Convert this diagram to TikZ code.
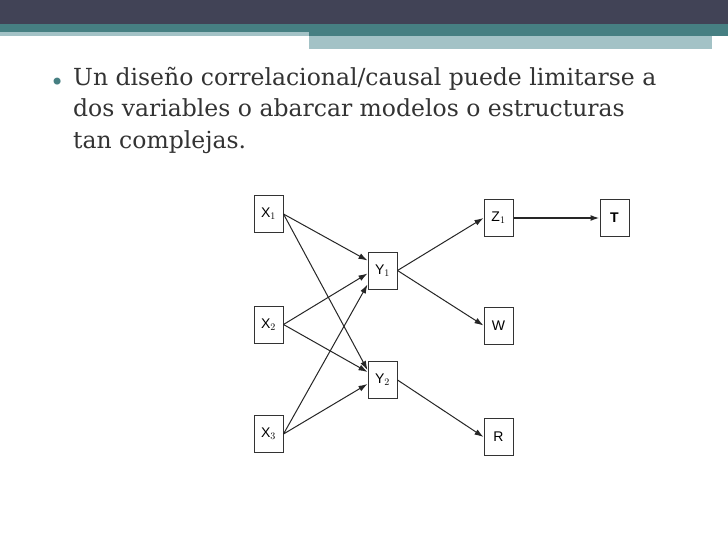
\documentclass[tikz,border=0pt]{standalone}
\usepackage{fontspec}
\setmainfont{DejaVu Serif}
\newfontfamily\boxfont{Liberation Sans}
\usetikzlibrary{arrows.meta}
\definecolor{dark}{HTML}{414356}
\definecolor{teal}{HTML}{467F82}
\definecolor{lteal}{HTML}{A3C2C6}
\begin{document}
\begin{tikzpicture}[x=1pt,y=-1pt,
  vbox/.style={draw=black!80,line width=1pt,minimum width=29pt,minimum height=37pt,inner sep=0pt,font=\boxfont\fontsize{14}{16}\selectfont},
  arr/.style={-{Latex[length=9pt,width=6pt]},line width=1pt,black!85}]
\useasboundingbox (0,0) rectangle (728,546);
\fill[white] (0,0) rectangle (728,546);
\fill[dark] (0,0) rectangle (728,24);
\fill[teal] (0,24) rectangle (728,32);
\fill[lteal] (0,32) rectangle (309,36);
\fill[teal] (309,32) rectangle (728,36);
\fill[lteal] (309,36) rectangle (712,49);
\node[anchor=base west,text=teal,font=\fontsize{24}{26}\selectfont,inner sep=0pt] (b) at (50,90) {•};
\node[anchor=north west,text=black!80,inner sep=0pt,align=left,font=\fontsize{23.5}{31.5}\selectfont] (t) at (73,67)
 {Un diseño correlacional/causal puede limitarse a\\dos variables o abarcar modelos o estructuras\\tan complejas.};
\node[vbox] (x1) at (268.5,214) {X$_1$};
\node[vbox] (x2) at (268.5,324.5) {X$_2$};
\node[vbox] (x3) at (268.5,434) {X$_3$};
\node[vbox] (y1) at (382.5,270.5) {Y$_1$};
\node[vbox] (y2) at (382.5,380) {Y$_2$};
\node[vbox] (z1) at (498.5,218) {Z$_1$};
\node[vbox] (w) at (498.5,325.5) {W};
\node[vbox] (r) at (498.5,437) {R};
\node[vbox,font=\boxfont\bfseries\fontsize{14}{16}\selectfont] (tt) at (614.5,218) {T};
\draw[arr] (x1.east) -- ([yshift=10pt]y1.west);
\draw[arr] (x1.east) -- ([yshift=10pt]y2.west);
\draw[arr] (x2.east) -- ([yshift=-3pt]y1.west);
\draw[arr] (x2.east) -- ([yshift=8pt]y2.west);
\draw[arr] (x3.east) -- ([yshift=-14pt]y1.west);
\draw[arr] (x3.east) -- ([yshift=-4pt]y2.west);
\draw[arr] (y1.east) -- (z1.west);
\draw[arr] (y1.east) -- (w.west);
\draw[arr] (y2.east) -- (r.west);
\draw[arr,line width=1.6pt] (z1.east) -- (tt.west);
\end{tikzpicture}
\end{document}
